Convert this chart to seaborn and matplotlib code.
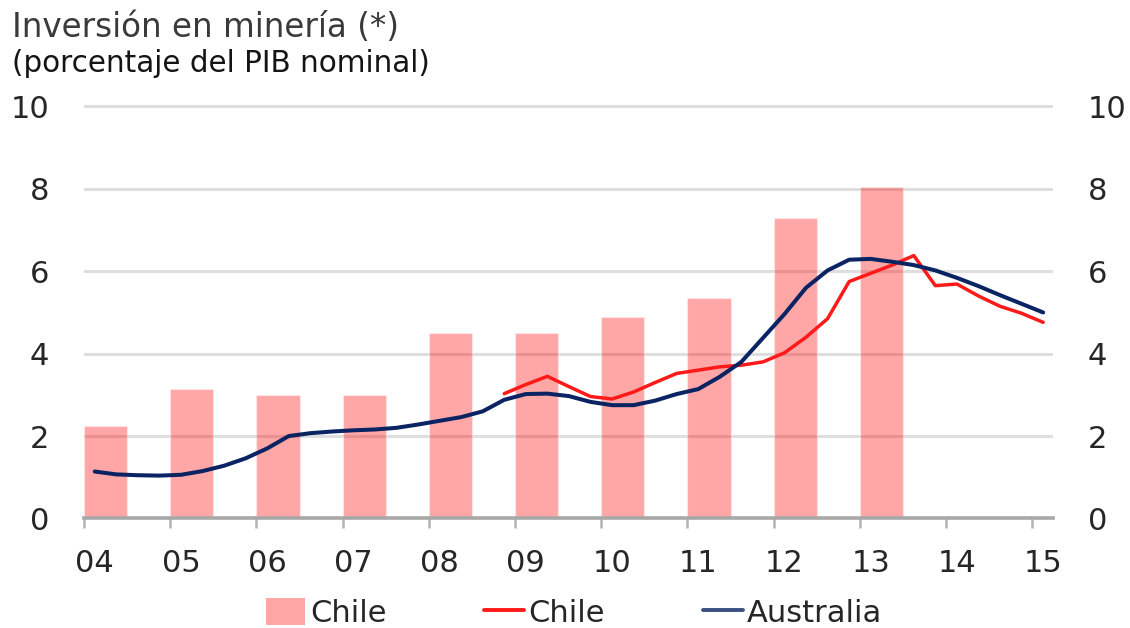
import numpy as np
import pandas as pd
import matplotlib
matplotlib.use("Agg")
import matplotlib.pyplot as plt
import seaborn as sns
from matplotlib.patches import Patch
from matplotlib.lines import Line2D

# Annual mining investment in Chile (% of nominal GDP)
bar_years = [2004, 2005, 2006, 2007, 2008, 2009, 2010, 2011, 2012, 2013]
chile_annual = [2.25, 3.15, 3.0, 3.0, 4.5, 4.5, 4.9, 5.35, 7.3, 8.05]

# Quarterly series (% of nominal GDP)
australia_start = "2004Q1"
australia_quarterly = [
    1.14, 1.07, 1.05, 1.04,
    1.06, 1.15, 1.28, 1.46,
    1.70, 2.00, 2.07, 2.11,
    2.14, 2.16, 2.20, 2.28,
    2.37, 2.46, 2.60, 2.88,
    3.02, 3.03, 2.97, 2.83,
    2.75, 2.75, 2.86, 3.02,
    3.14, 3.44, 3.80, 4.38,
    4.96, 5.60, 6.02, 6.28,
    6.30, 6.23, 6.15, 6.02,
    5.84, 5.64, 5.42, 5.21,
    5.00,
]
chile_start = "2008Q4"
chile_quarterly = [
    3.03,
    3.25, 3.45, 3.20, 2.96,
    2.90, 3.07, 3.30, 3.52,
    3.60, 3.68, 3.72, 3.80,
    4.02, 4.40, 4.85, 5.75,
    5.95, 6.15, 6.38, 5.65,
    5.69, 5.40, 5.15, 4.98,
    4.76,
]

tick_years = list(range(2004, 2016))
year_labels = ["04", "05", "06", "07", "08", "09", "10", "11", "12", "13", "14", "15"]
y_ticks = [0, 2, 4, 6, 8, 10]

title = "Inversión en minería (*)"
subtitle = "(porcentaje del PIB nominal)"
legend_labels = ["Chile", "Chile", "Australia"]

BAR_COLOR = "#FF0000"
RED = "#FF1A1A"
NAVY = "#0A2463"
GRID = "#DEDEDE"
AXIS = "#A8A8A8"
TEXT = "#262626"


def quarter_midpoints(start, n):
    """Fractional-year position of the middle of each quarter."""
    periods = pd.period_range(start=start, periods=n, freq="Q")
    return np.asarray(periods.year + (periods.quarter - 1) * 0.25 + 0.125, dtype=float)


sns.set_theme(style="white")
plt.rcParams["font.family"] = ["DejaVu Sans"]

fig = plt.figure(figsize=(11.3, 6.28), dpi=100)
ax = fig.add_axes([0.0743, 0.1744, 0.8576, 0.6594])

# Annual bars occupy the first half of each year
bars = pd.DataFrame({"x": np.asarray(bar_years, dtype=float) + 0.25, "value": chile_annual})
sns.barplot(data=bars, x="x", y="value", native_scale=True, width=0.5,
            color=BAR_COLOR, saturation=1, alpha=0.35, errorbar=None,
            edgecolor="white", linewidth=1.0, ax=ax, zorder=2)

chile_q = pd.DataFrame({"x": quarter_midpoints(chile_start, len(chile_quarterly)),
                        "value": chile_quarterly})
aus_q = pd.DataFrame({"x": quarter_midpoints(australia_start, len(australia_quarterly)),
                      "value": australia_quarterly})
sns.lineplot(data=chile_q, x="x", y="value", color=RED, linewidth=2.5,
             estimator=None, sort=False, ax=ax, zorder=3)
sns.lineplot(data=aus_q, x="x", y="value", color=NAVY, linewidth=2.9,
             estimator=None, sort=False, ax=ax, zorder=4)

ax.set_xlim(2004, 2015.24)
ax.set_ylim(0, 10.05)
ax.set_xlabel("")
ax.set_ylabel("")

# Y axis: labels on both sides, horizontal grid
ax.set_yticks(y_ticks)
ax.set_yticklabels([str(v) for v in y_ticks])
ax.tick_params(axis="y", which="major", length=0, pad=25, labelsize=22,
               labelleft=True, labelright=True, labelcolor=TEXT)
ax.yaxis.grid(True, color=GRID, linewidth=2.2)
ax.xaxis.grid(False)
ax.set_axisbelow(True)

# X axis: tick marks at year starts, labels slightly to the right
ax.set_xticks(tick_years)
ax.set_xticklabels([])
ax.set_xticks([y + 0.125 for y in tick_years], minor=True)
ax.set_xticklabels(year_labels, minor=True)
ax.tick_params(axis="x", which="major", direction="out", length=7.5, width=1.8,
               color="#B4B4B4", bottom=True)
ax.tick_params(axis="x", which="minor", length=0, pad=22, labelsize=22,
               labelcolor=TEXT)

for side in ["top", "left", "right"]:
    ax.spines[side].set_visible(False)
ax.spines["bottom"].set_color(AXIS)
ax.spines["bottom"].set_linewidth(2.6)
ax.spines["bottom"].set_zorder(5)

# Titles
fig.text(12 / 1130, 0.9416, title, fontsize=23.5, color="#3A3A3A", va="baseline")
fig.text(12 / 1130, 0.8858, subtitle, fontsize=21.25, color="#141414", va="baseline")

# Legend
handles = [
    Patch(facecolor=BAR_COLOR, alpha=0.35, edgecolor="none"),
    Line2D([0], [0], color=RED, linewidth=2.8),
    Line2D([0], [0], color=NAVY, linewidth=2.8, alpha=0.8),
]
fig.legend(handles, legend_labels, loc="center", bbox_to_anchor=(0.508, 0.024),
           ncol=3, frameon=False, fontsize=22, handlelength=1.3, handleheight=1.0,
           handletextpad=0.15, columnspacing=3.2, labelcolor=TEXT)

fig.savefig("out.png", dpi=100, facecolor="white")
